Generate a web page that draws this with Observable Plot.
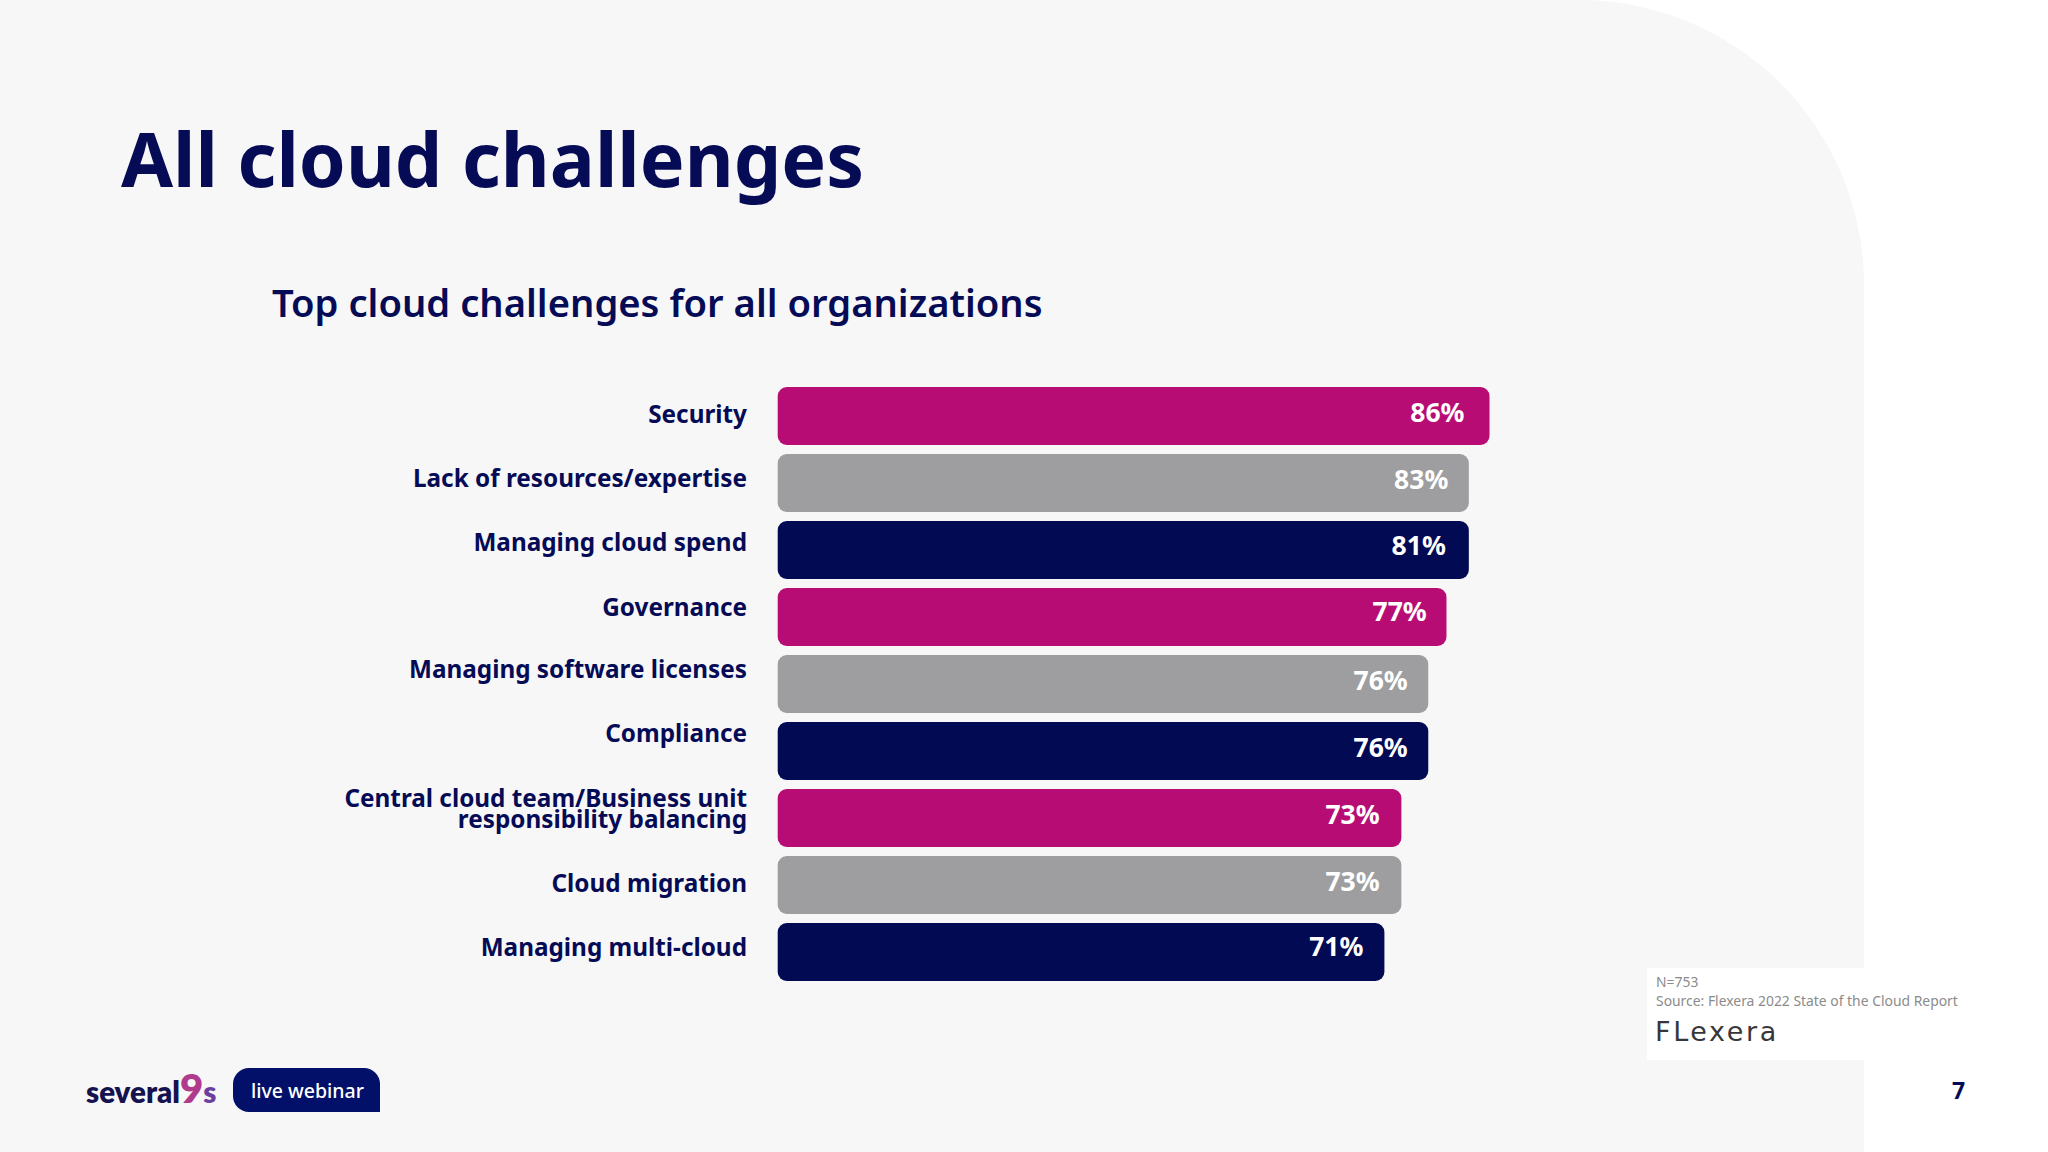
<!DOCTYPE html>
<html><head><meta charset="utf-8">
<script src="https://cdn.jsdelivr.net/npm/d3@7"></script>
<script src="https://cdn.jsdelivr.net/npm/@observablehq/plot@0.6"></script>
<style>
html,body{margin:0;padding:0;background:#fff;width:2048px;height:1152px;overflow:hidden;font-family:"Noto Sans",sans-serif;color:#060b56}
.abs{position:absolute;white-space:nowrap;line-height:1}
#panel{position:absolute;left:0;top:0;width:1864px;height:1152px;background:#f7f7f8;border-top-right-radius:285px}
#title{left:121px;top:121px;font-size:75.3px;font-weight:700}
#sub{left:272px;top:283px;font-size:38.2px;font-weight:600}
#chart{position:absolute;left:0;top:360px}
#note{position:absolute;left:1647px;top:968px;width:217px;height:92px;background:#fff}
#n1{left:1656px;top:975px;font-size:13.9px;color:#8b8b8b}
#n2{left:1656px;top:994px;font-size:13.9px;color:#8b8b8b}
#flex{left:1655px;top:1018px;font-size:27px;color:#37373b;font-family:"DejaVu Sans";font-weight:400;letter-spacing:2.6px}
#page{left:1952px;top:1079px;font-size:23px;font-weight:700}
#logo{left:86px;top:1077px;font-size:29.5px;font-weight:800;font-family:"Lato";color:#15124f}
#logo .n{color:#b03a8c;font-size:40px;line-height:0}
#logo .s{color:#6b3fa0}
#pill{position:absolute;left:233px;top:1068px;width:147px;height:44px;background:#02106a;border-radius:16px 16px 0 16px}
#pilltxt{left:251px;top:1081px;font-size:19.5px;color:#fff;font-weight:500}
</style></head><body>
<div id="panel"></div>
<div id="note"></div>
<div class="abs" id="title">All cloud challenges</div>
<div class="abs" id="sub">Top cloud challenges for all organizations</div>
<div id="chart"></div>
<div class="abs" id="n1">N=753</div>
<div class="abs" id="n2">Source: Flexera 2022 State of the Cloud Report</div>
<div class="abs" id="flex">FLexera</div>
<div class="abs" id="page">7</div>
<div class="abs" id="logo">several<span class="n">9</span><span class="s">s</span></div>
<div id="pill"></div>
<div class="abs" id="pilltxt">live webinar</div>
<script>
const challenges = ["Security","Lack of resources/expertise","Managing cloud spend","Governance","Managing software licenses","Compliance","Central cloud team/Business unit\nresponsibility balancing","Cloud migration","Managing multi-cloud"];
const printedPercent = [86,83,81,77,76,76,73,73,71];
const barLengths = [86,83.5,83.5,80.8,78.6,78.6,75.35,75.35,73.3];
const colorGroups = ["first","second","third","first","second","third","first","second","third"];
const labelNudge = [0,-3,-6.5,-8.5,-13.5,-16,-8,0,-3.5];
const valueNudge = [-2.6,-2.6,-3.9,-5.2,-3.2,-3.2,-2.6,-2.6,-5.2];
const valueInset = [-25.5,-21,-23.5,-20.2,-21,-21,-22.2,-22.2,-21.5];
const rows = challenges.map((name,i)=>({name,pct:printedPercent[i],len:barLengths[i],group:colorGroups[i],i}));
const chart = Plot.plot({
  width:2048,height:640,
  marginLeft:777.7,marginRight:442.6,marginTop:24.3,marginBottom:16.2,
  style:{background:"transparent",overflow:"visible"},
  x:{domain:[0,100],axis:null},
  y:{domain:challenges,paddingInner:0.141,paddingOuter:0,axis:null},
  color:{domain:["first","second","third"],range:["#b80c75","#9e9ea0","#010a52"]},
  marks:[
    Plot.barX(rows,{x:d=>d.len,y:"name",fill:"group",rx:9}),
    ...rows.map(d=>Plot.text([d],{x:0,y:"name",text:"name",textAnchor:"end",dx:-31.2,dy:labelNudge[d.i],fontSize:24.3,fontWeight:700,lineHeight:0.88,fill:"#060b56",fontFamily:"Noto Sans"})),
    ...rows.map(d=>Plot.text([d],{x:"len",y:"name",text:e=>e.pct+"%",textAnchor:"end",dx:valueInset[d.i],dy:valueNudge[d.i],fontSize:26.5,fontWeight:700,fill:"#fff",fontFamily:"Noto Sans"}))
  ]
});
document.getElementById("chart").appendChild(chart);
</script>
</body></html>
